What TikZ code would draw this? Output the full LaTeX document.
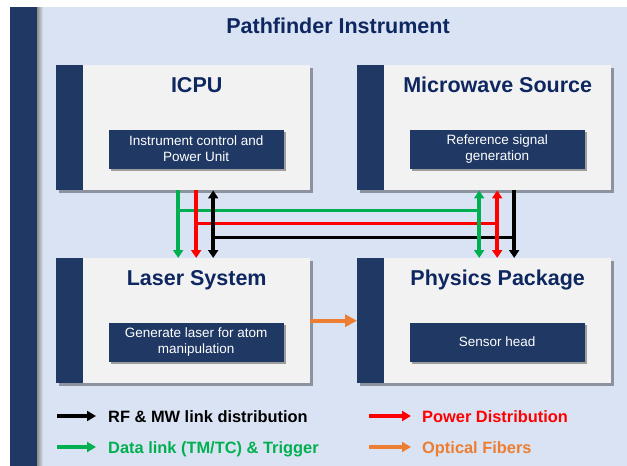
\documentclass[tikz,border=0pt]{standalone}
\usepackage{fontspec}
\setmainfont{Liberation Sans}
\usetikzlibrary{arrows.meta,positioning,calc,shadows}
\definecolor{navy}{HTML}{1F3864}
\definecolor{deep}{HTML}{0E2760}
\definecolor{pale}{HTML}{DAE3F3}
\definecolor{card}{HTML}{F2F2F2}
\definecolor{dgreen}{HTML}{00B050}
\definecolor{dred}{HTML}{FF0000}
\definecolor{fiber}{HTML}{ED7D31}
\tikzset{panel/.style={fill=card,minimum width=254pt,minimum height=125pt,inner sep=0pt,anchor=north west,
    drop shadow={shadow xshift=3pt,shadow yshift=-3pt,opacity=.35,fill=black}},
  head/.style={text=deep,font=\fontsize{21.5}{24}\selectfont\bfseries,inner sep=0pt,anchor=base},
  task/.style={fill=navy,text=white,minimum width=175pt,minimum height=39pt,inner sep=0pt,align=center,
    font=\fontsize{13.5}{16}\selectfont,drop shadow={shadow xshift=2pt,shadow yshift=-2pt,opacity=.35,fill=black}},
  key/.style={font=\fontsize{16.4}{18}\selectfont\bfseries,inner sep=0pt,anchor=base west,text height=12pt,text depth=0pt},
  link/.style={line width=3.5pt},
  sig/.tip={Triangle[width=10pt,length=8pt]},
  opt/.tip={Triangle[width=12pt,length=12pt]},
  leg/.tip={Triangle[width=10pt,length=9pt]}}
\newcommand{\subsys}[5]{%
\node[panel] (#1) at (#2,#3) {};
\fill[navy] (#1.north west) rectangle ([xshift=27pt]#1.south west);
\node[head] (#1-head) at ([xshift=13.5pt,yshift=-27pt]#1.north) {#4};
\node[task] (#1-task) at ([xshift=13pt,yshift=-84pt]#1.north) {#5};
}

\begin{document}
\begin{tikzpicture}[x=1pt,y=-1pt]
\useasboundingbox (0,0) rectangle (627,466);
\fill[pale] (37,7) rectangle (627,466);
\fill[navy] (10,7) rectangle (37,466);
\shade[left color=black!45,right color=pale] (37,7) rectangle (43,466);
\node[head] (title) at (338,33) {Pathfinder Instrument};
\subsys{icpu}{56}{65}{ICPU}{Instrument control and\\Power Unit}
\subsys{mw}{357}{65}{Microwave Source}{Reference signal\\generation}
\subsys{laser}{56}{258}{Laser System}{Generate laser for atom\\manipulation}
\subsys{phys}{357}{258}{Physics Package}{Sensor head}
\foreach \col/\dx/\dy in {dgreen/-5/20,dred/13/33,black/30/47}
  \draw[link,draw=\col] ([xshift=\dx pt,yshift=-\dy pt]icpu.south) -- ([xshift=\dx pt,yshift=-\dy pt]mw.south);
\draw[link,dgreen,-sig] ([xshift=-5pt]icpu.south) -- ([xshift=-5pt]laser.north);
\draw[link,dred,-sig] ([xshift=13pt]icpu.south) -- ([xshift=13pt]laser.north);
\draw[link,black,sig-sig] ([xshift=30pt]icpu.south) -- ([xshift=30pt]laser.north);
\draw[link,dgreen,sig-sig] ([xshift=-5pt]mw.south) -- ([xshift=-5pt]phys.north);
\draw[link,dred,sig-sig] ([xshift=13pt]mw.south) -- ([xshift=13pt]phys.north);
\draw[link,black,-sig] ([xshift=30pt]mw.south) -- ([xshift=30pt]phys.north);
\draw[link,fiber,line width=4pt,-opt] (laser.east) -- (phys.west);
\node[key] (rf) at (108,422) {RF \& MW link distribution};
\node[key,text=dgreen] (data) at (108,453) {Data link (TM/TC) \& Trigger};
\node[key,text=dred] (power) at (422,422) {Power Distribution};
\node[key,text=fiber] (optic) at (422,453) {Optical Fibers};
\draw[link,black,-leg] ([xshift=-51pt]rf.west) -- ([xshift=-12pt]rf.west);
\draw[link,dgreen,-leg] ([xshift=-51pt]data.west) -- ([xshift=-12pt]data.west);
\draw[link,dred,-leg] ([xshift=-53pt]power.west) -- ([xshift=-11pt]power.west);
\draw[link,fiber,-leg] ([xshift=-53pt]optic.west) -- ([xshift=-11pt]optic.west);
\end{tikzpicture}
\end{document}
